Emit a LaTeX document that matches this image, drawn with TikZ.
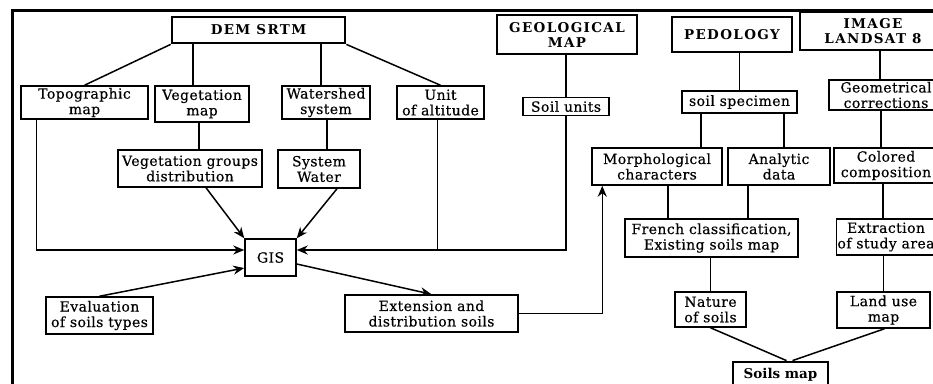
\documentclass[tikz,border=0pt]{standalone}
\usepackage{fontspec}
\setmainfont{DejaVu Serif}
\usetikzlibrary{arrows.meta, positioning}

\begin{document}
\begin{tikzpicture}[x=1pt, y=-1pt,
        box/.style={draw, line width=1.5pt, align=center, inner sep=1pt,
        font=\fontsize{14}{15.5}\selectfont\addfontfeature{LetterSpace=3, FakeBold=0.4}},
        head/.style={draw, line width=2.8pt, align=center, inner sep=1pt,
        font=\fontsize{13.5}{15}\selectfont\bfseries\addfontfeature{LetterSpace=10}},
        lnk/.style={line width=1.5pt},
        arr/.style={-{Stealth[length=11pt, width=9pt]}, line width=1.5pt}
      ]
      \useasboundingbox (0,0) rectangle (933,383);
      \clip (0,0) rectangle (933,383);
      \draw[line width=3pt] (12,10) rectangle (1000,450);

      % sources
      \node[head, minimum width=173, minimum height=26] (dem)   at (258.5, 30)  {DEM SRTM};
      \node[head, minimum width=140, minimum height=39] (geo)   at (567, 34.5)  {GEOLOGICAL\\MAP};
      \node[head, minimum width=120, minimum height=35] (pedo)  at (732, 34.5)  {PEDOLOGY};
      \node[head, minimum width=146, minimum height=38] (image) at (873, 31)    {IMAGE\\LANDSAT 8};

      \node[box, minimum width=127, minimum height=33] (topo)     at (84.5, 102.5)  {Topographic\\map};
      \node[box, minimum width=94,  minimum height=36] (vegmap)   at (202, 104)     {Vegetation\\map};
      \node[box, minimum width=88,  minimum height=33] (water)    at (326, 102.5)   {Watershed\\system};
      \node[box, minimum width=87,  minimum height=33] (unit)     at (440.5, 102.5) {Unit\\of altitude};
      \node[box, minimum width=144, minimum height=37] (veggrp)   at (190, 168.5)   {Vegetation groups\\distribution};
      \node[box, minimum width=82,  minimum height=38] (syswater) at (319, 169)     {System\\Water};
      \node[box, minimum width=51,  minimum height=37] (gis)      at (270.5, 257.5) {GIS};
      \node[box, minimum width=107, minimum height=37] (eval)     at (99.5, 315.5)  {Evaluation\\of soils types};
      \node[box, minimum width=173, minimum height=37] (ext)      at (431.5, 313.5) {Extension and\\distribution soils};

      \node[box, minimum width=86,  minimum height=18] (soilunits) at (566, 106.5)  {Soil units};
      \node[box, minimum width=115, minimum height=22] (specimen)  at (739.5, 102)  {soil specimen};
      \node[box, minimum width=130, minimum height=37] (morph)     at (657, 166.5)  {Morphological\\characters};
      \node[box, minimum width=102, minimum height=37] (analytic)  at (779, 166.5)  {Analytic\\data};
      \node[box, minimum width=173, minimum height=38] (french)    at (711.5, 238)  {French classification,\\Existing soils map};
      \node[box, minimum width=71,  minimum height=35, align=left] (nature) at (710.5, 309.5) {Nature\\of soils};

      \node[box, minimum width=114, minimum height=30] (geom)    at (886, 95)    {Geometrical\\corrections};
      \node[box, minimum width=104, minimum height=35] (colored) at (886, 165.5) {Colored\\composition};
      \node[box, minimum width=98,  minimum height=36] (extract) at (886, 237)   {Extraction\\of study area};
      \node[box, minimum width=93,  minimum height=36] (landuse) at (883.5, 310) {Land use\\map};

      \node[head, minimum width=95, minimum height=26,
            font=\fontsize{13.5}{15}\selectfont\bfseries] (soilsmap) at (780.5, 375) {Soils map};

      \coordinate (gisin) at ([yshift=7.5pt]gis.east);

      % DEM branch
      \draw[lnk] (dem.south west) -- (topo.north);
      \draw[lnk] ([xshift=-9pt]vegmap.north) -- ([xshift=-9pt]vegmap.north |- dem.south);
      \draw[lnk] ([xshift=-5pt]water.north) -- ([xshift=-5pt]water.north |- dem.south);
      \draw[lnk] (dem.south east) -- (unit.north);
      \draw[lnk] ([xshift=-3pt]veggrp.north -| vegmap.south) -- ([xshift=-3pt]vegmap.south);
      \draw[lnk] ([xshift=1pt]water.south) -- ([xshift=1pt]water.south |- syswater.north);

      % into GIS
      \draw[arr] ([xshift=-48pt]topo.south) |- ([yshift=7.5pt]gis.west);
      \draw[arr] ([xshift=16pt]veggrp.south) -- (gis.north west);
      \draw[arr] ([xshift=18pt]syswater.south) -- (gis.north east);
      \draw[arr] (soilunits.south) |- (gisin);
      \draw[lnk] ([xshift=-3pt]unit.south) -- ([xshift=-3pt]unit.south |- gisin);
      \draw[arr] (eval.north) -- ([yshift=-10.5pt]gis.west);
      \draw[arr] ([yshift=-6.5pt]gis.east) -- (ext.north);
      \draw[arr] (ext.east) -| ([xshift=11pt]morph.south west);

      % geology and pedology
      \draw[lnk] (soilunits.north |- geo.south) -- (soilunits.north);
      \draw[lnk] (specimen.north |- pedo.south) -- (specimen.north);
      \draw[lnk] ([xshift=44pt]morph.north) -- ([xshift=44pt]morph.north |- specimen.south);
      \draw[lnk] ([xshift=5pt]analytic.north) -- ([xshift=5pt]analytic.north |- specimen.south);
      \draw[lnk] ([xshift=11pt]morph.south) -- ([xshift=11pt]morph.south |- french.north);
      \draw[lnk] ([xshift=-31pt]analytic.south) -- ([xshift=-31pt]analytic.south |- french.north);
      \draw[lnk] (nature.north |- french.south) -- (nature.north);
      \draw[lnk] (nature.south) -- ([xshift=6pt]soilsmap.north);

      % Landsat
      \draw[lnk] ([xshift=-6pt]geom.north |- image.south) -- ([xshift=-6pt]geom.north);
      \draw[lnk] ([xshift=-5pt]geom.south) -- ([xshift=-5pt]geom.south |- colored.north);
      \draw[lnk] ([xshift=-3pt]colored.south) -- ([xshift=-3pt]colored.south |- extract.north);
      \draw[lnk] (landuse.north |- extract.south) -- (landuse.north);
      \draw[lnk] ([xshift=1pt]landuse.south) -- ([xshift=12pt]soilsmap.north);
    \end{tikzpicture}
\end{document}
